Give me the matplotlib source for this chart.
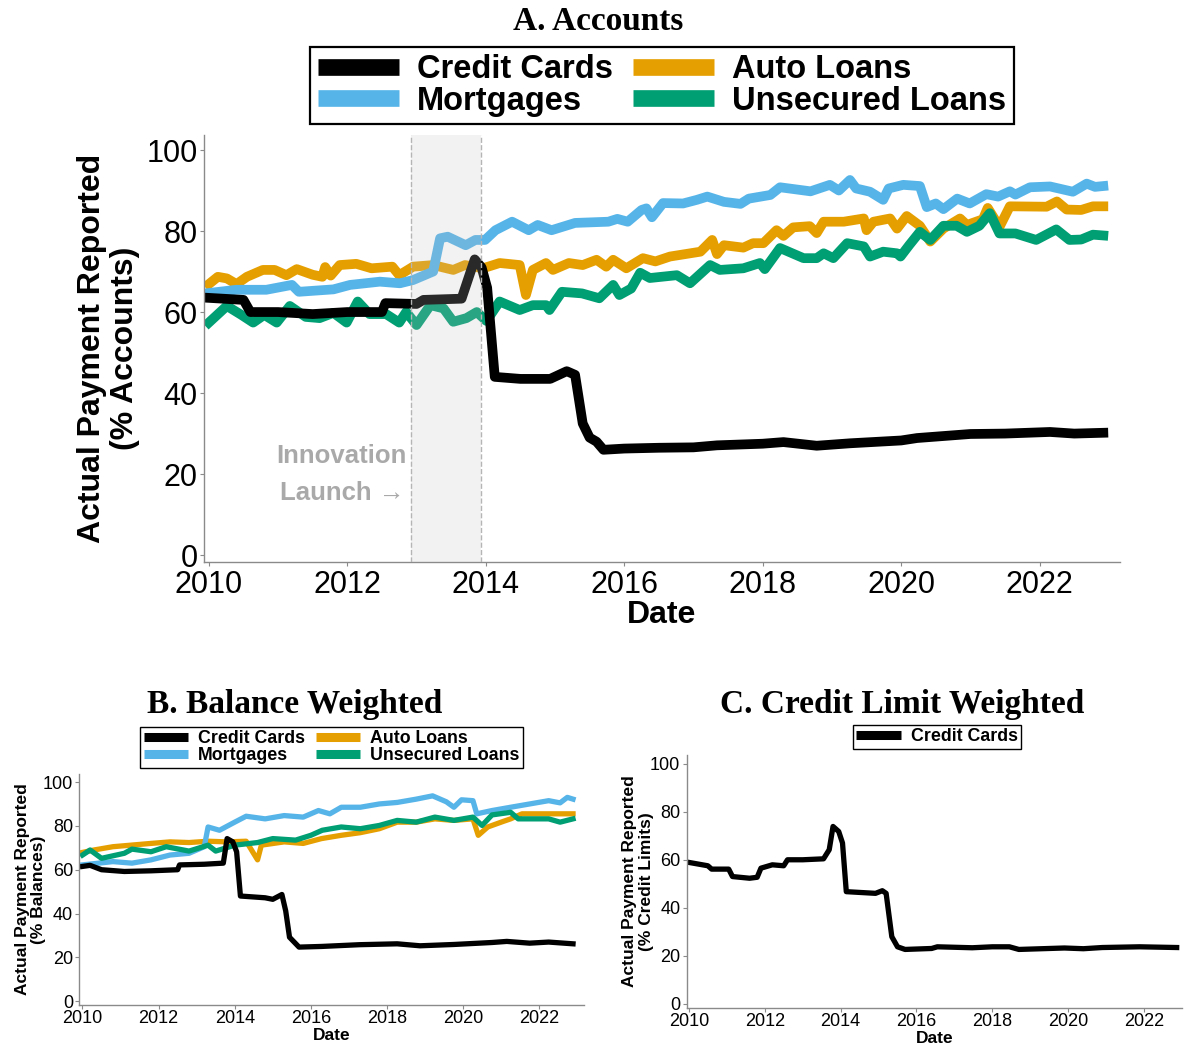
#Recreates the three panel chart of actual payment reporting by product type
import numpy as np
import matplotlib
matplotlib.use("Agg")
import matplotlib.pyplot as plt
from matplotlib.lines import Line2D

plt.rcParams['font.family'] = ['Liberation Sans', 'DejaVu Sans']

#colours of the four products
colCC = "black"
colMort = "#56B4E9"
colAuto = "#E69F00"
colUns = "#009E73"

#---------------- Panel A: accounts ----------------
aCCx = [2010.0, 2010.5, 2010.6, 2011.0, 2011.5, 2012.0, 2012.5, 2012.55, 2013.0, 2013.1, 2013.65, 2013.84,
        2013.94, 2014.02, 2014.13, 2014.5, 2014.93, 2015.17, 2015.29, 2015.4, 2015.5, 2015.6, 2015.7, 2016.0,
        2016.5, 2017.0, 2017.34, 2018.0, 2018.3, 2018.78, 2019.26, 2020.0, 2020.23, 2021.0, 2021.5, 2022.15,
        2022.5, 2022.92]
aCCy = [63.5, 63, 60, 60, 59.5, 60, 60, 62.2, 62, 63, 63.3, 73, 71, 66, 44, 43.5, 43.5, 45.4, 44.5, 32.5, 29,
        28, 26, 26.3, 26.5, 26.6, 27.1, 27.5, 27.9, 27, 27.6, 28.3, 28.9, 29.9, 30, 30.4, 30, 30.2]

aMortx = [2010.0, 2010.4, 2010.83, 2011.2, 2011.3, 2011.8, 2012.04, 2012.47, 2012.76, 2012.95, 2013.24, 2013.34,
          2013.45, 2013.71, 2013.85, 2013.99, 2014.14, 2014.38, 2014.62, 2014.75, 2014.95, 2015.29, 2015.77,
          2015.9, 2016.05, 2016.25, 2016.32, 2016.4, 2016.56, 2016.85, 2017.05, 2017.2, 2017.44, 2017.68, 2017.8,
          2018.11, 2018.25, 2018.69, 2018.97, 2019.1, 2019.26, 2019.35, 2019.55, 2019.74, 2019.82, 2020.03,
          2020.27, 2020.37, 2020.5, 2020.61, 2020.81, 2020.99, 2021.23, 2021.4, 2021.57, 2021.65, 2021.86,
          2022.15, 2022.48, 2022.68, 2022.8, 2022.92]
aMorty = [64.7, 65.5, 65.5, 66.7, 65, 65.6, 66.7, 67.5, 67.1, 67.9, 70, 78.2, 78.6, 76.5, 77.8, 77.8, 80.2, 82.3,
          80.2, 81.5, 80.2, 82, 82.3, 83, 82.3, 85.2, 85.6, 83.4, 86.9, 86.8, 87.7, 88.5, 87.2, 86.7, 88, 88.9,
          90.8, 89.8, 91.4, 90, 92.6, 90.5, 89.7, 87.7, 90.5, 91.4, 91.1, 85.9, 86.8, 85.4, 88, 86.8, 89.1, 88.5,
          89.8, 89, 90.8, 91, 89.7, 91.7, 90.9, 91.1]

aAutox = [2010.0, 2010.13, 2010.26, 2010.4, 2010.55, 2010.78, 2010.95, 2011.12, 2011.27, 2011.5, 2011.64, 2011.68,
          2011.76, 2011.89, 2012.13, 2012.35, 2012.65, 2012.75, 2012.95, 2013.24, 2013.53, 2013.7, 2013.96,
          2014.2, 2014.49, 2014.58, 2014.68, 2014.87, 2014.97, 2015.2, 2015.4, 2015.6, 2015.74, 2015.84, 2016.03,
          2016.27, 2016.45, 2016.66, 2017.1, 2017.27, 2017.34, 2017.44, 2017.72, 2017.86, 2018.01, 2018.2,
          2018.3, 2018.44, 2018.68, 2018.78, 2018.88, 2019.17, 2019.46, 2019.5, 2019.6, 2019.84, 2019.94,
          2020.08, 2020.27, 2020.42, 2020.61, 2020.85, 2020.95, 2021.18, 2021.25, 2021.42, 2021.57, 2022.1,
          2022.25, 2022.39, 2022.6, 2022.77, 2022.92]
aAutoy = [66.9, 68.7, 68.3, 66.9, 68.7, 70.4, 70.4, 69.1, 70.6, 69.2, 68.7, 71.1, 69, 71.6, 71.9, 70.8, 71.2,
          69.1, 71.2, 71.6, 70.4, 71.6, 70.8, 72.1, 71.6, 64.2, 70.4, 72.1, 70.4, 72.1, 71.6, 72.9, 71.2, 72.9,
          70.8, 73.3, 72.5, 73.7, 74.9, 77.8, 74.3, 76.5, 75.9, 77, 77, 80.2, 78.8, 80.9, 81.2, 79.5, 82.3, 82.3,
          83.1, 80.2, 82.3, 83.1, 80.6, 83.7, 81.3, 77.4, 80.6, 83.1, 81.5, 82.9, 85.7, 81, 86.1, 86, 87.3, 85.3,
          85.2, 86.1, 86.1]

aUnsx = [2010.0, 2010.26, 2010.47, 2010.64, 2010.8, 2010.98, 2011.17, 2011.4, 2011.6, 2011.8, 2011.99, 2012.15,
         2012.32, 2012.56, 2012.75, 2012.85, 2013.0, 2013.2, 2013.39, 2013.53, 2013.72, 2013.87, 2014.01, 2014.2,
         2014.49, 2014.68, 2014.87, 2014.92, 2015.1, 2015.39, 2015.64, 2015.84, 2015.93, 2016.1, 2016.23,
         2016.37, 2016.76, 2016.95, 2017.24, 2017.38, 2017.72, 2017.96, 2018.03, 2018.25, 2018.59, 2018.78,
         2018.88, 2019.02, 2019.22, 2019.46, 2019.55, 2019.74, 2019.94, 2019.99, 2020.12, 2020.27, 2020.42,
         2020.61, 2020.8, 2020.95, 2021.13, 2021.28, 2021.42, 2021.65, 2021.95, 2022.24, 2022.43, 2022.6,
         2022.77, 2022.92]
aUnsy = [57.4, 61.5, 59.3, 57.4, 59.3, 57.4, 61.5, 58.8, 58.5, 59.8, 57.4, 62.6, 59.5, 59.5, 57.4, 60, 56.8,
         61.7, 60.9, 57.6, 58.5, 60, 57.8, 62.6, 60.5, 61.7, 61.7, 60.5, 65, 64.6, 63.4, 66.7, 64.2, 65.8, 69.7,
         68.4, 69.1, 67.1, 71.6, 70.4, 70.8, 72.1, 70.6, 75.8, 73.3, 73.3, 74.5, 73.3, 77, 76.2, 73.7, 74.9,
         74.5, 73.7, 76.6, 79.8, 77.8, 81.3, 81.3, 79.8, 81.3, 84.4, 79.4, 79.4, 77.8, 80.4, 77.8, 77.9, 79.1,
         78.9]

#---------------- Panel B: balance weighted ----------------
bCCx = [2010.0, 2010.2, 2010.5, 2011.1, 2011.8, 2012.5, 2012.55, 2013.2, 2013.7, 2013.8, 2013.95, 2014.05,
        2014.15, 2014.8, 2015.0, 2015.24, 2015.34, 2015.44, 2015.69, 2016.28, 2017.28, 2018.27, 2018.87,
        2019.76, 2020.76, 2021.15, 2021.75, 2022.25, 2022.89]
bCCy = [61.5, 62, 60, 59.2, 59.5, 60, 62.2, 62.5, 63, 74.2, 72.7, 68.2, 48, 47.2, 46.5, 48.7, 41.2, 29.2, 24.7,
        25, 25.8, 26.2, 25.3, 25.9, 26.8, 27.3, 26.5, 27, 26.2]

bMortx = [2010.0, 2010.8, 2011.3, 2011.8, 2012.3, 2012.8, 2013.2, 2013.3, 2013.6, 2014.0, 2014.3, 2014.8,
          2015.3, 2015.8, 2016.2, 2016.5, 2016.8, 2017.3, 2017.8, 2018.27, 2018.77, 2019.2, 2019.56, 2019.76,
          2019.96, 2020.26, 2020.36, 2020.76, 2021.25, 2021.75, 2022.25, 2022.55, 2022.74, 2022.89]
bMorty = [62.2, 63.7, 63, 64.5, 66.7, 67.5, 70.5, 79.5, 78, 81.7, 84.4, 83.2, 84.7, 84, 87, 85.5, 88.5, 88.5, 90,
          90.7, 92.2, 93.7, 91, 88.5, 91.9, 91.5, 85.5, 87, 88.5, 90, 91.5, 90.5, 93, 92.2]

bAutox = [2010.0, 2010.3, 2010.8, 2011.8, 2012.3, 2012.8, 2013.3, 2013.8, 2014.3, 2014.6, 2014.7, 2015.3, 2015.8,
          2016.28, 2016.8, 2017.3, 2017.8, 2018.27, 2018.77, 2019.26, 2019.76, 2020.26, 2020.4, 2020.65, 2021.05,
          2021.25, 2021.55, 2022.25, 2022.89]
bAutoy = [67.9, 69, 70.5, 72, 72.7, 72.4, 73, 72.7, 73, 64.5, 71.2, 72.7, 72, 74.2, 75.7, 76.9, 78.7, 81.7, 81.7,
          83.2, 82.5, 83.2, 75.7, 79.5, 82, 83.2, 85.5, 85.5, 85.5]

bUnsx = [2010.0, 2010.2, 2010.5, 2011.1, 2011.3, 2011.8, 2012.2, 2012.8, 2013.3, 2013.5, 2014.0, 2014.6, 2015.0,
         2015.6, 2016.0, 2016.3, 2016.8, 2017.3, 2017.8, 2018.27, 2018.77, 2019.26, 2019.76, 2020.26, 2020.5,
         2020.76, 2021.25, 2021.45, 2022.25, 2022.55, 2022.89]
bUnsy = [66.7, 69, 65.2, 67.5, 69.4, 68.2, 70.5, 68.5, 71.2, 68.5, 71.2, 72.4, 74.2, 73.5, 75.7, 78, 79.5, 78.7,
         80.2, 82.5, 81.7, 84, 82.5, 84, 80.2, 85, 86.2, 83.2, 83.2, 81.7, 83.2]

#---------------- Panel C: credit limit weighted ----------------
cCCx = [2010.0, 2010.5, 2010.6, 2011.05, 2011.15, 2011.6, 2011.8, 2011.9, 2012.2, 2012.5, 2012.6, 2013.0,
        2013.55, 2013.7, 2013.8, 2013.95, 2014.05, 2014.15, 2014.92, 2015.1, 2015.2, 2015.35, 2015.5, 2015.7,
        2016.4, 2016.55, 2017.47, 2018.0, 2018.45, 2018.7, 2019.9, 2020.4, 2020.9, 2021.88, 2022.86]
cCCy = [58.9, 57.5, 56.1, 56.1, 53, 52.3, 52.7, 56.5, 57.9, 57.5, 60, 60, 60.4, 64.2, 73.9, 71.8, 67, 46.7, 46,
        47.1, 46, 27.9, 23.7, 22.6, 23, 23.7, 23.3, 23.7, 23.7, 22.6, 23.2, 22.9, 23.4, 23.7, 23.4]

#innovation launch window
launchStart = 2012.92
launchEnd = 2013.93

yearTicks = np.arange(2010, 2023, 2)
pctTicks = np.arange(0, 101, 20)


#common styling for every panel
def styleAx(ax, fs, xlim, xpad):
    ax.set_xlim(*xlim)
    ax.set_ylim(-1.7, 103.7)
    ax.set_xticks(yearTicks)
    ax.set_xticklabels([str(y) for y in yearTicks])
    ax.set_yticks(pctTicks)
    for s in ["top", "right"]:
        ax.spines[s].set_visible(False)
    for s in ["left", "bottom"]:
        ax.spines[s].set_color("#8a8a8a")
        ax.spines[s].set_linewidth(1.0)
    ax.tick_params(axis="both", labelsize=fs, length=3, width=0.8, color="#8a8a8a", pad=1.5)
    ax.tick_params(axis="x", pad=xpad)


#y and x axis titles, coords give the right edge of the y label and top of the x label
def axTitles(ax, ytext, fs, ycoord, xcoord):
    ax.set_ylabel(ytext, fontsize=fs, fontweight="bold", linespacing=1.12)
    ax.yaxis.set_label_coords(ycoord, 0.5)
    ax.set_xlabel("Date", fontsize=fs, fontweight="bold")
    ax.xaxis.set_label_coords(0.5, xcoord)


fig = plt.figure(figsize=(11.84, 10.45), dpi=100)

#Panel A
axA = fig.add_axes([0.1723, 0.4622, 0.7736, 0.4086])
axA.plot(aAutox, aAutoy, color=colAuto, lw=7)
axA.plot(aMortx, aMorty, color=colMort, lw=7)
axA.plot(aUnsx, aUnsy, color=colUns, lw=7)
axA.plot(aCCx, aCCy, color=colCC, lw=7)
axA.axvspan(launchStart, launchEnd, color="#c2c2c2", alpha=0.21, lw=0, zorder=5)
axA.axvline(launchStart, color="#b5b5b5", lw=1, ls="--", zorder=6)
axA.axvline(launchEnd, color="#b5b5b5", lw=1, ls="--", zorder=6)
axA.text(2011.92, 24.4, "Innovation", color="#a9a9a9", fontsize=18.5, fontweight="bold",
         ha="center", va="center")
axA.text(2011.92, 15.3, "Launch \u2192", color="#a9a9a9", fontsize=18.5, fontweight="bold",
         ha="center", va="center")
styleAx(axA, 22, (2009.93, 2023.16), 2.5)
axTitles(axA, "Actual Payment Reported\n(% Accounts)", 23, -0.070, -0.089)

#Panel B
axB = fig.add_axes([0.0671, 0.0383, 0.4262, 0.2211])
axB.plot(bAutox, bAutoy, color=colAuto, lw=3.8)
axB.plot(bMortx, bMorty, color=colMort, lw=3.8)
axB.plot(bUnsx, bUnsy, color=colUns, lw=3.8)
axB.plot(bCCx, bCCy, color=colCC, lw=3.8)
styleAx(axB, 13, (2009.92, 2023.18), 0.5)
axTitles(axB, "Actual Payment Reported\n(% Balances)", 12.5, -0.066, -0.098)

#Panel C
axC = fig.add_axes([0.5799, 0.0357, 0.4184, 0.2418])
axC.plot(cCCx, cCCy, color=colCC, lw=3.8)
styleAx(axC, 13, (2009.94, 2023.0), 0.5)
axTitles(axC, "Actual Payment Reported\n(% Credit Limits)", 12.5, -0.066, -0.093)

#legends
labels4 = ["Credit Cards", "Mortgages", "Auto Loans", "Unsecured Loans"]
cols4 = [colCC, colMort, colAuto, colUns]


def makeLegend(labels, cols, lw, fs, anchor, ncol, hl, frameLw, lsp, bpad):
    handles = [Line2D([0], [0], color=c, lw=lw, solid_capstyle="butt") for c in cols]
    leg = fig.legend(handles, labels, loc="lower center", bbox_to_anchor=anchor, ncol=ncol,
                     prop={"size": fs, "weight": "bold"}, handlelength=hl, handletextpad=0.55,
                     columnspacing=0.6, labelspacing=lsp, borderpad=bpad, borderaxespad=0,
                     fancybox=False, framealpha=1)
    leg.get_frame().set_edgecolor("black")
    leg.get_frame().set_linewidth(frameLw)
    return leg


makeLegend(labels4, cols4, 12, 23.5, (662 / 1184, 1 - 124 / 1045), 2, 2.5, 1.6, 0.02, 0.22)
makeLegend(labels4, cols4, 6.5, 12.8, (331.5 / 1184, 1 - 768 / 1045), 2, 2.5, 1.0, 0.02, 0.2)
makeLegend(["Credit Cards"], [colCC], 6.5, 12.8, (937 / 1184, 1 - 749 / 1045), 1, 2.5, 1.0, 0.02, 0.2)

#panel titles
titleFont = dict(family=["Liberation Serif", "DejaVu Serif"], fontweight="bold", fontsize=24,
                 ha="center", va="center")
fig.text(598 / 1184, 1 - 21 / 1045, "A. Accounts", **titleFont)
fig.text(295 / 1184, 1 - 704 / 1045, "B. Balance Weighted", **titleFont)
fig.text(902 / 1184, 1 - 704 / 1045, "C. Credit Limit Weighted", **titleFont)

fig.savefig("out.png", dpi=100)
